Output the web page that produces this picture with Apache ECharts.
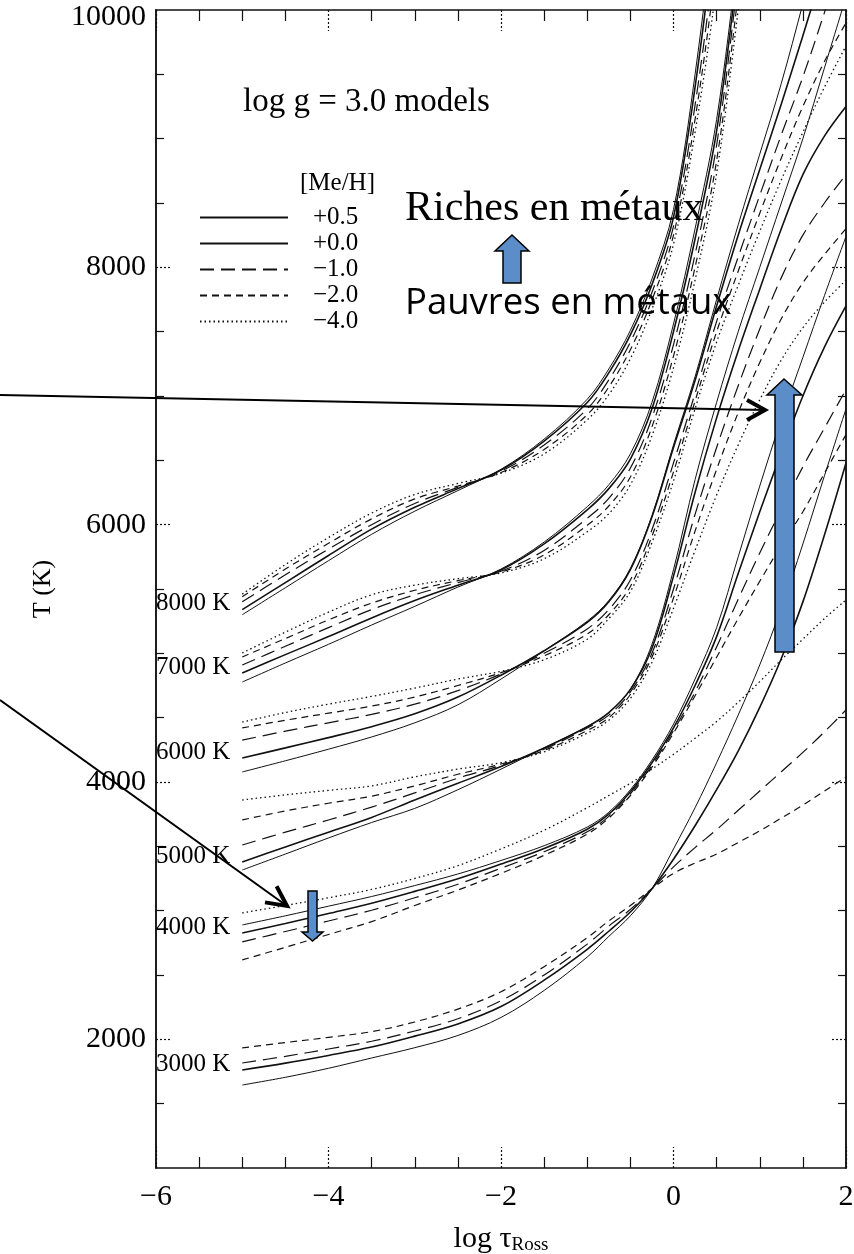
<!DOCTYPE html>
<html>
<head>
<meta charset="utf-8">
<script src="https://cdn.jsdelivr.net/npm/echarts@6/dist/echarts.min.js"></script>
<style>
  html, body { margin: 0; padding: 0; background: #fff; }
  #chart { width: 854px; height: 1254px; }
</style>
</head>
<body>
<div id="chart"></div>
<script>
// log tau_Ross sample points (shared by every model)
const tauGrid = [-5, -4.5, -4, -3.5, -3, -2.5, -2, -1.5, -1, -0.75, -0.5, -0.25, 0, 0.25, 0.5, 0.75, 1, 1.25, 1.5, 1.75, 2];

// T (K) per model
const t8000_p05 = [5300, 5510, 5720, 5925, 6105, 6265, 6430, 6665, 6975, 7210, 7510, 7910, 8450, 9500, 10900, 12600];
const t8000_p00 = [5340, 5550, 5760, 5965, 6135, 6280, 6425, 6650, 6950, 7180, 7475, 7865, 8390, 9400, 10750, 12400];
const t8000_m10 = [5400, 5610, 5810, 6000, 6165, 6290, 6415, 6620, 6900, 7125, 7420, 7805, 8320, 9260, 10550, 12150];
const t8000_m20 = [5440, 5655, 5855, 6045, 6200, 6300, 6405, 6585, 6855, 7070, 7360, 7745, 8250, 9150, 10380, 11950];
const t8000_m40 = [5460, 5690, 5900, 6090, 6235, 6320, 6400, 6550, 6815, 7010, 7290, 7675, 8180, 9050, 10200, 11700];

const t7000_p05 = [4777, 4925, 5070, 5220, 5365, 5515, 5655, 5865, 6140, 6310, 6550, 6950, 7560, 8300, 9150, 10450, 12000];
const t7000_p00 = [4847, 4990, 5130, 5275, 5410, 5530, 5648, 5850, 6115, 6280, 6510, 6900, 7500, 8220, 9060, 10350, 11850];
const t7000_m10 = [4909, 5055, 5200, 5340, 5455, 5550, 5638, 5800, 6050, 6205, 6440, 6830, 7400, 8100, 8950, 10250, 11700];
const t7000_m20 = [4972, 5115, 5260, 5390, 5490, 5565, 5632, 5765, 5995, 6145, 6370, 6760, 7310, 8000, 8830, 10120, 11550];
const t7000_m40 = [5003, 5165, 5320, 5455, 5530, 5580, 5625, 5735, 5945, 6085, 6310, 6690, 7220, 7900, 8730, 10000, 11400];

const t6000_p05 = [4078, 4165, 4255, 4350, 4460, 4600, 4800, 5020, 5250, 5410, 5660, 6070, 6620, 7150, 7750, 8330, 8880, 9430, 10050, 10700];
const t6000_p00 = [4187, 4265, 4345, 4430, 4530, 4660, 4830, 5020, 5240, 5400, 5650, 6060, 6600, 7120, 7700, 8250, 8760, 9270, 9800, 10350];
const t6000_m10 = [4326, 4395, 4460, 4525, 4605, 4710, 4840, 5000, 5190, 5340, 5570, 5960, 6480, 7020, 7580, 8080, 8560, 9030, 9480, 9980, 10500];
const t6000_m20 = [4420, 4480, 4535, 4590, 4660, 4750, 4850, 4980, 5150, 5300, 5520, 5910, 6410, 6960, 7500, 7970, 8420, 8850, 9250, 9600, 9900];
const t6000_m40 = [4466, 4540, 4605, 4665, 4730, 4800, 4860, 4950, 5110, 5270, 5480, 5860, 6340, 6900, 7420, 7860, 8280, 8680, 9050, 9400, 9720];

const t5000_p05 = [3316, 3440, 3565, 3685, 3795, 3940, 4100, 4265, 4430, 4540, 4720, 5070, 5650, 6350, 6950, 7500, 8000, 8500, 9000, 9550, 10100];
const t5000_p00 = [3378, 3495, 3610, 3725, 3860, 3990, 4120, 4265, 4430, 4540, 4720, 5040, 5600, 6250, 6830, 7350, 7830, 8300, 8720, 9020, 9250];
const t5000_m10 = [3510, 3610, 3705, 3805, 3915, 4030, 4130, 4255, 4420, 4520, 4700, 5000, 5500, 6080, 6600, 7080, 7520, 7920, 8250, 8500, 8720];
const t5000_m20 = [3705, 3775, 3835, 3890, 3970, 4060, 4140, 4245, 4400, 4500, 4680, 4970, 5430, 5950, 6430, 6870, 7260, 7600, 7880, 8100, 8300];
const t5000_m40 = [3860, 3900, 3935, 3970, 4040, 4100, 4150, 4235, 4380, 4480, 4650, 4930, 5350, 5800, 6230, 6620, 6970, 7280, 7530, 7730, 7900];

const t4000_p05 = [2889, 2960, 3035, 3110, 3195, 3285, 3390, 3505, 3650, 3765, 3940, 4170, 4450, 4800, 5200, 5750, 6300, 6820, 7300, 7780, 8240];
const t4000_p00 = [2826, 2900, 2978, 3058, 3150, 3248, 3362, 3483, 3633, 3750, 3925, 4150, 4420, 4750, 5130, 5620, 6100, 6560, 7000, 7380, 7700];
const t4000_m10 = [2757, 2838, 2920, 3003, 3100, 3205, 3330, 3458, 3613, 3733, 3908, 4130, 4400, 4700, 5050, 5420, 5780, 6120, 6450, 6750, 7050];
const t4000_m20 = [2617, 2715, 2815, 2915, 3040, 3160, 3290, 3430, 3595, 3720, 3895, 4115, 4380, 4670, 4970, 5270, 5560, 5840, 6100, 6400, 6700];
const t4000_m40 = [2982, 3040, 3100, 3165, 3250, 3350, 3480, 3625, 3800, 3895, 3990, 4100, 4215, 4340, 4470, 4620, 4780, 4950, 5110, 5270, 5415];

const t3000_p05 = [1645, 1705, 1775, 1855, 1935, 2030, 2170, 2380, 2640, 2800, 2960, 3170, 3480, 3800, 4150, 4520, 4910, 5350, 5850, 6380, 6900];
const t3000_p00 = [1762, 1815, 1875, 1940, 2025, 2120, 2255, 2460, 2700, 2840, 2990, 3170, 3400, 3660, 3940, 4240, 4580, 4960, 5400, 5920, 6480];
const t3000_m10 = [1816, 1868, 1925, 1985, 2065, 2160, 2300, 2500, 2740, 2880, 3010, 3170, 3340, 3490, 3630, 3780, 3930, 4080, 4230, 4390, 4560];
const t3000_m20 = [1933, 1975, 2015, 2060, 2135, 2235, 2370, 2565, 2790, 2920, 3040, 3170, 3290, 3370, 3440, 3530, 3620, 3720, 3820, 3930, 4039];

const metals = ['+0.5', '+0.0', '\u22121.0', '\u22122.0', '\u22124.0'];
const models = [
  { label: '8000 K', curves: [t8000_p05, t8000_p00, t8000_m10, t8000_m20, t8000_m40] },
  { label: '7000 K', curves: [t7000_p05, t7000_p00, t7000_m10, t7000_m20, t7000_m40] },
  { label: '6000 K', curves: [t6000_p05, t6000_p00, t6000_m10, t6000_m20, t6000_m40] },
  { label: '5000 K', curves: [t5000_p05, t5000_p00, t5000_m10, t5000_m20, t5000_m40] },
  { label: '4000 K', curves: [t4000_p05, t4000_p00, t4000_m10, t4000_m20, t4000_m40] },
  { label: '3000 K', curves: [t3000_p05, t3000_p00, t3000_m10, t3000_m20, null] }
];

const xLabels = [-6, -4, -2, 0, 2];
const yLabels = [2000, 4000, 6000, 8000, 10000];
const yMajorTicks = [2000, 4000, 6000, 8000];
const yMinorTicks = [1500, 2500, 3000, 3500, 4500, 5000, 5500, 6500, 7000, 7500, 8500, 9000, 9500];

const ink = '#111';
const serif = 'Liberation Serif';
const lineStyles = [
  { width: 1, type: 'solid' },
  { width: 1.6, type: 'solid' },
  { width: 1.2, type: [14, 7] },
  { width: 1.2, type: [7, 5] },
  { width: 1.3, type: [1.5, 3] }
];

const series = [];
models.forEach(m => {
  m.curves.forEach((arr, k) => {
    if (!arr) return;
    series.push({
      name: metals[k],
      type: 'line',
      symbol: 'none',
      smooth: 0.35,
      silent: true,
      itemStyle: { color: ink },
      lineStyle: { color: ink, width: lineStyles[k].width, type: lineStyles[k].type },
      data: tauGrid.map((x, i) => [x, arr[i]]).filter(p => p[1] != null)
    });
  });
});

// model labels at the start of each +0.0 curve
series.push({
  type: 'scatter',
  symbolSize: 0,
  silent: true,
  itemStyle: { opacity: 1 },
  data: models.map(m => ({ value: [tauGrid[0], m.curves[1][0]], name: m.label })),
  label: {
    show: true, position: 'left', distance: 12, offset: [0, -6], opacity: 1,
    formatter: p => p.name, fontFamily: serif, fontSize: 25, color: '#000'
  }
});

const minus = v => (v < 0 ? '\u2212' + Math.abs(v) : String(v));

const xBase = {
  type: 'value', min: -6, max: 2, interval: 2,
  axisLine: { onZero: false, lineStyle: { color: ink, width: 1.5 } },
  axisTick: { inside: true, length: 21, lineStyle: { color: ink, type: [2, 2], width: 1.2 } },
  minorTick: { show: true, splitNumber: 4, length: 11, lineStyle: { color: ink, width: 1.2 } },
  splitLine: { show: false }
};
const yBase = {
  type: 'value', min: 1000, max: 10000,
  axisLine: { show: true, onZero: false, lineStyle: { color: ink, width: 1.5 } },
  splitLine: { show: false }
};

const option = {
  animation: false,
  backgroundColor: '#fff',
  grid: { left: 156, right: 8, top: 10, bottom: 86, outerBoundsMode: 'none', containLabel: false },
  xAxis: [
    Object.assign({}, xBase, {
      position: 'bottom',
      axisLabel: { customValues: xLabels, formatter: minus, fontFamily: serif, fontSize: 30, color: '#000', margin: 14 },
      name: '{a|log \u03c4}{b|Ross}',
      nameLocation: 'middle',
      nameGap: 55,
      nameTextStyle: {
        rich: {
          a: { fontFamily: serif, fontSize: 30, color: '#000', lineHeight: 32 },
          b: { fontFamily: serif, fontSize: 19, color: '#000', lineHeight: 8, verticalAlign: 'bottom' }
        }
      }
    }),
    Object.assign({}, xBase, { position: 'top', axisLabel: { show: false } })
  ],
  yAxis: [
    Object.assign({}, yBase, {
      position: 'left',
      axisTick: { show: true, inside: true, customValues: yMajorTicks, length: 15, lineStyle: { color: ink, type: [2, 2], width: 1.2 } },
      axisLabel: {
        customValues: yLabels, fontFamily: serif, fontSize: 30, color: '#000', margin: 10,
        formatter: v => (v === 10000 ? '{t|10000}' : String(v)),
        rich: { t: { fontFamily: serif, fontSize: 30, color: '#000', padding: [14, 0, 0, 0] } }
      },
      name: 'T (K)', nameLocation: 'middle', nameRotate: 90, nameGap: 100,
      nameTextStyle: { fontFamily: serif, fontSize: 26, color: '#000' }
    }),
    Object.assign({}, yBase, {
      position: 'left',
      axisTick: { show: true, inside: true, customValues: yMinorTicks, length: 8, lineStyle: { color: ink, width: 1.2 } },
      axisLabel: { show: false }
    }),
    Object.assign({}, yBase, {
      position: 'right',
      axisTick: { show: true, inside: true, customValues: yMajorTicks, length: 15, lineStyle: { color: ink, type: [2, 2], width: 1.2 } },
      axisLabel: { show: false }
    }),
    Object.assign({}, yBase, {
      position: 'right',
      axisTick: { show: true, inside: true, customValues: yMinorTicks, length: 8, lineStyle: { color: ink, width: 1.2 } },
      axisLabel: { show: false }
    })
  ],
  legend: {
    data: metals,
    orient: 'vertical',
    left: 194, top: 200,
    itemWidth: 88, itemHeight: 14, itemGap: 1,
    selectedMode: false,
    itemStyle: { opacity: 0 },
    textStyle: { fontFamily: serif, fontSize: 25, color: '#000', padding: [0, 0, 0, 20] }
  },
  series: series,
  graphic: [
    { type: 'text', left: 243, top: 86, style: { text: 'log g = 3.0 models', font: '33px "Liberation Serif"', fill: '#000' } },
    { type: 'text', left: 300, top: 171, style: { text: '[Me/H]', font: '25px "Liberation Serif"', fill: '#000' } },
    { type: 'text', left: 405, top: 188, style: { text: 'Riches en métaux', font: '42px "Liberation Serif"', fill: '#000' } },
    { type: 'text', left: 405, top: 285, style: { text: 'Pauvres en métaux', font: '36.5px "Open Sans"', fill: '#000' } },
    // blue arrows
    { type: 'polygon', z: 100, shape: { points: [[512, 235], [529, 251], [521, 251], [521, 283], [503, 283], [503, 251], [495, 251]] },
      style: { fill: '#5B8EC8', stroke: '#000', lineWidth: 1.5 } },
    { type: 'polygon', z: 100, shape: { points: [[784, 379], [802, 395], [794, 395], [794, 652], [775, 652], [775, 395], [767, 395]] },
      style: { fill: '#5B8EC8', stroke: '#000', lineWidth: 1.5 } },
    { type: 'polygon', z: 100, shape: { points: [[308, 891], [317, 891], [317, 932], [323, 932], [312.5, 941], [302, 932], [308, 932]] },
      style: { fill: '#5B8EC8', stroke: '#000', lineWidth: 1.5 } },
    // black pointer arrows
    { type: 'polyline', z: 100, shape: { points: [[0, 395], [765, 410]] }, style: { stroke: '#000', lineWidth: 2 } },
    { type: 'polyline', z: 100, shape: { points: [[747, 400], [765, 410], [747, 420]] }, style: { stroke: '#000', lineWidth: 4, fill: null } },
    { type: 'polyline', z: 100, shape: { points: [[0, 700], [287, 906]] }, style: { stroke: '#000', lineWidth: 2 } },
    { type: 'polyline', z: 100, shape: { points: [[276.6, 886.2], [287, 906], [265, 902.4]] }, style: { stroke: '#000', lineWidth: 4, fill: null } }
  ]
};

const myChart = echarts.init(document.getElementById('chart'));
myChart.setOption(option);
</script>
</body>
</html>
